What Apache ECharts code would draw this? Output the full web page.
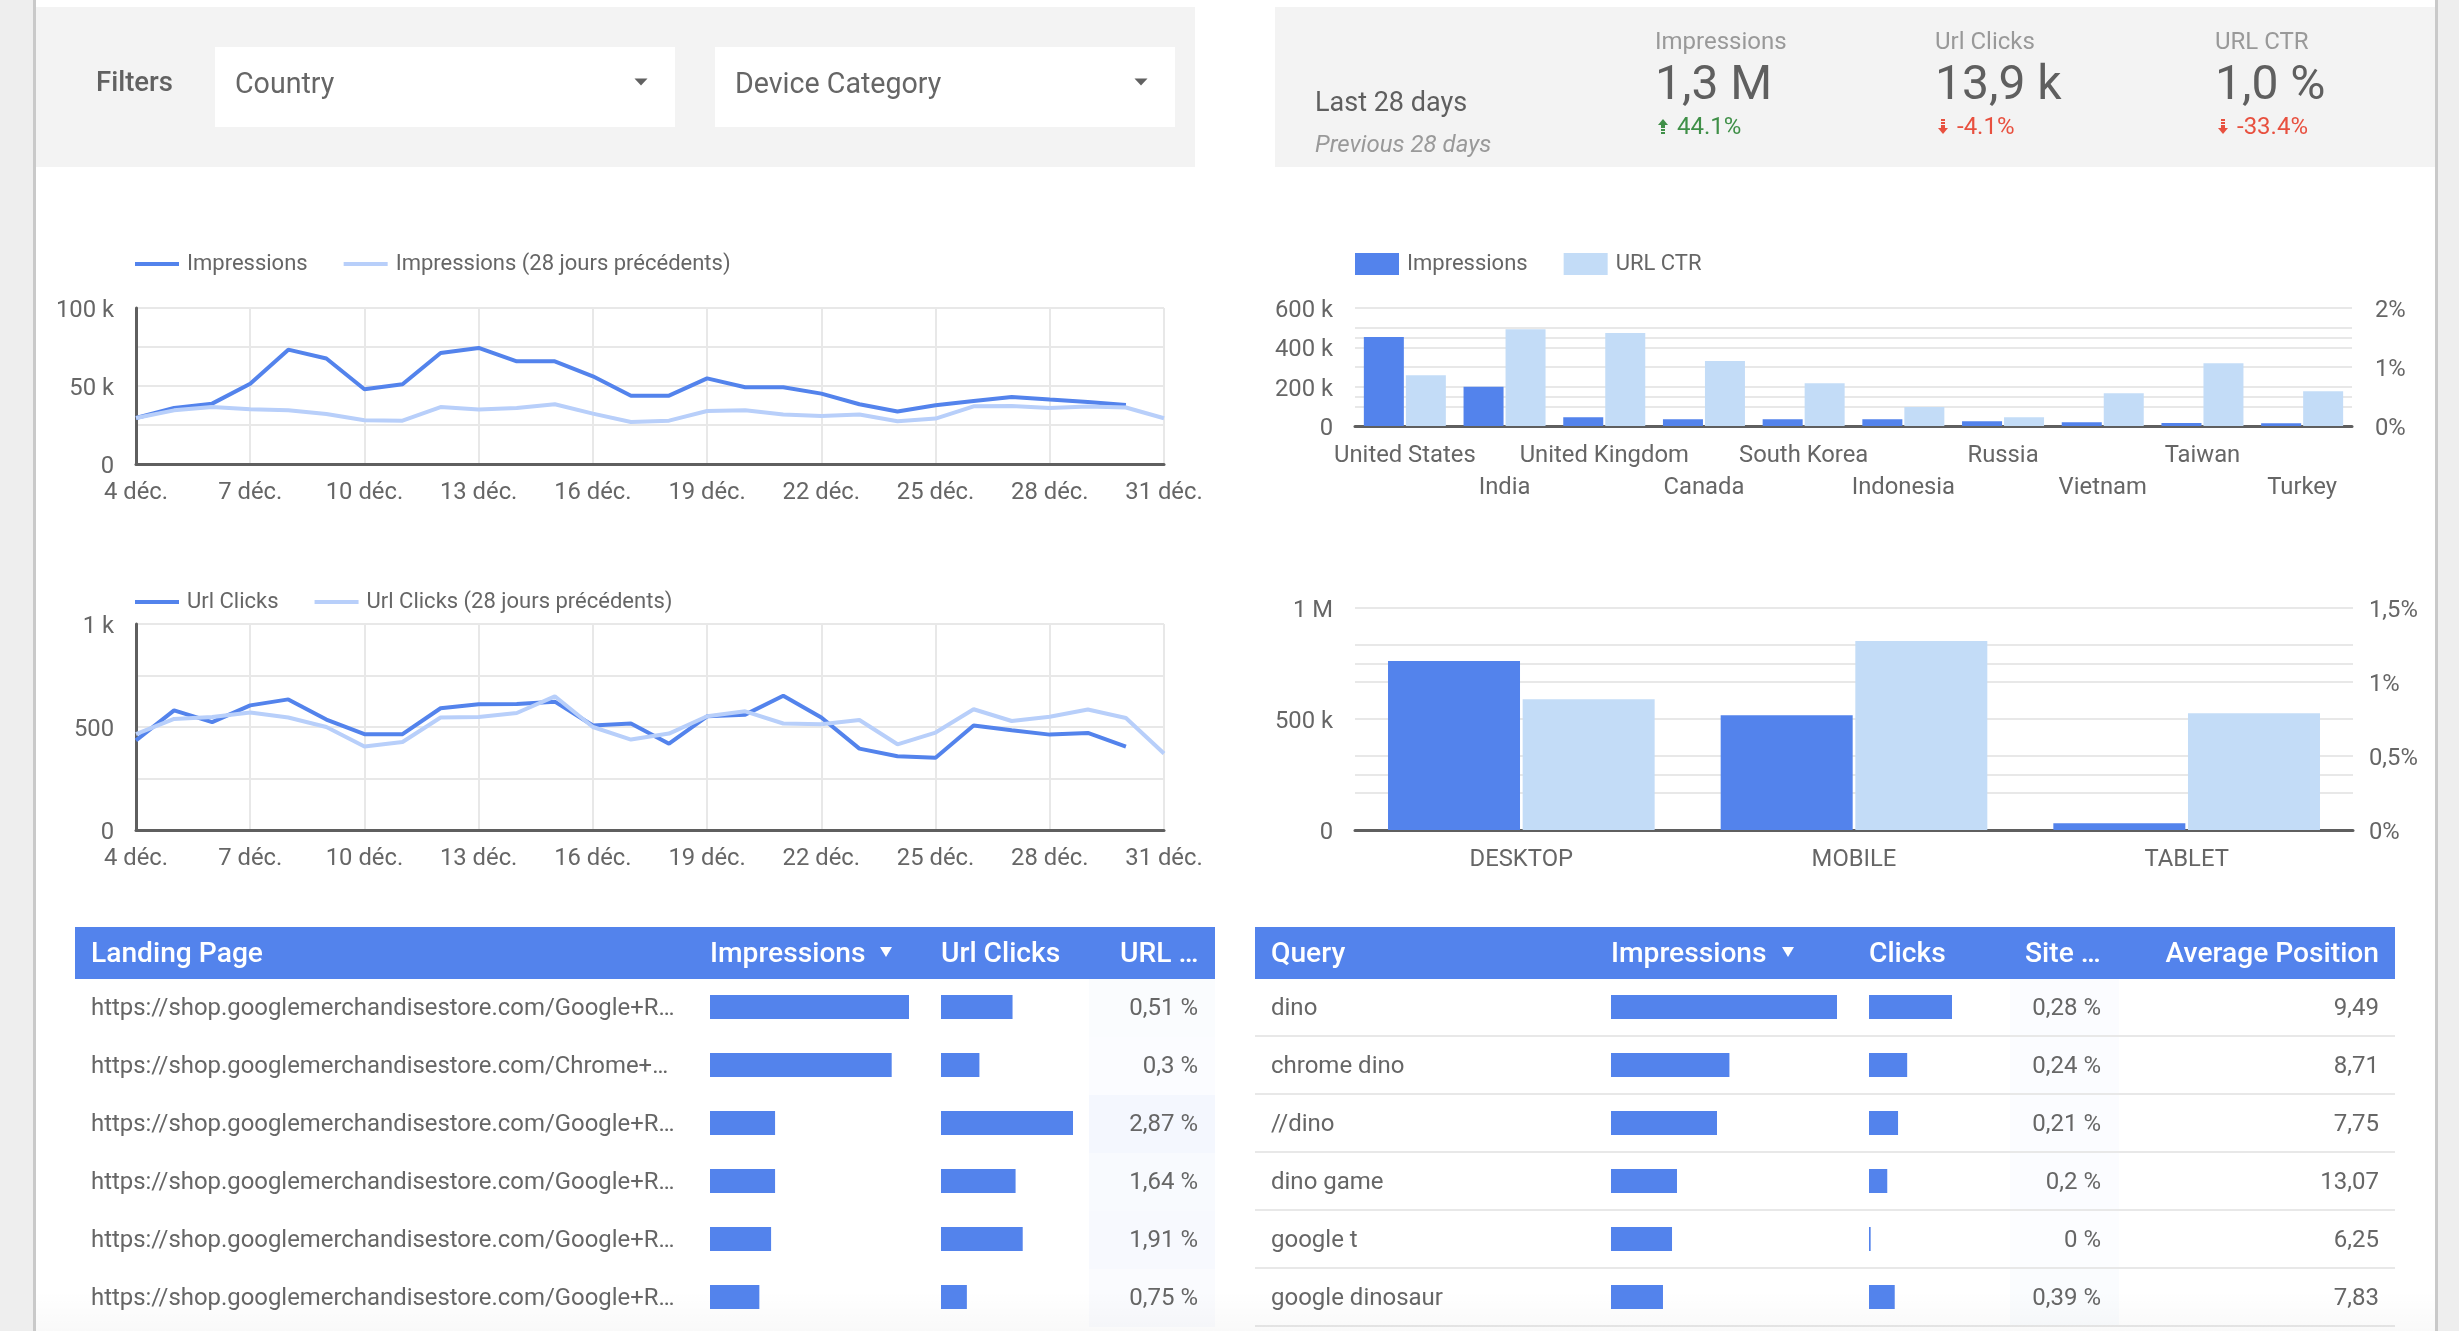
<!DOCTYPE html>
<html>
<head>
<meta charset="utf-8">
<title>Search Console dashboard</title>
<script src="https://cdn.jsdelivr.net/npm/echarts@6/dist/echarts.min.js"></script>
<style>
  html, body { margin: 0; padding: 0; background: #fff; overflow: hidden; }
  #main { width: 2459px; height: 1331px; }
</style>
</head>
<body>
<div id="main"></div>
<script>
var days = ['4 déc.','5 déc.','6 déc.','7 déc.','8 déc.','9 déc.','10 déc.','11 déc.','12 déc.','13 déc.','14 déc.','15 déc.','16 déc.','17 déc.','18 déc.','19 déc.','20 déc.','21 déc.','22 déc.','23 déc.','24 déc.','25 déc.','26 déc.','27 déc.','28 déc.','29 déc.','30 déc.','31 déc.'];
var impressions = [29500,35900,38700,51500,73300,67600,47900,51100,71200,74400,65800,65800,56200,43800,43800,54900,49200,49200,45100,38300,33600,37600,40400,42900,41300,39800,37800];
var impressionsPrev = [29500,34400,36500,35100,34400,32100,28000,27800,36500,34900,35900,38300,32300,26900,27800,34000,34400,31700,30800,31700,27400,29100,37000,37200,35900,36800,36200,29300];
var clicks = [435,581,524,605,634,536,465,465,591,610,612,623,507,517,419,552,560,652,546,395,358,351,507,484,463,471,405];
var clicksPrev = [465,539,549,570,546,500,405,427,546,549,568,649,500,439,468,552,576,517,513,534,416,473,586,529,550,585,544,371];

var countries = ['United States','India','United Kingdom','Canada','South Korea','Indonesia','Russia','Vietnam','Taiwan','Turkey'];
var countryImpressions = [452000,199000,44000,34000,34000,34000,24000,19000,15000,14000];
var countryCtr = [0.86,1.64,1.575,1.10,0.725,0.32,0.147,0.555,1.065,0.59];

var devices = ['DESKTOP','MOBILE','TABLET'];
var deviceImpressions = [761000,517000,30000];
var deviceCtr = [0.884,1.277,0.789];

var impressionTicks = {0:'0',50000:'50 k',100000:'100 k'};
var clickTicks = {0:'0',500:'500',1000:'1 k'};
var countryTicks = {0:'0',200000:'200 k',400000:'400 k',600000:'600 k'};
var countryCtrTicks = {0:'0%',1:'1%',2:'2%'};
var deviceTicks = {0:'0',500000:'500 k',1000000:'1 M'};
var deviceCtrTicks = {0:'0%',0.5:'0,5%',1:'1%',1.5:'1,5%'};

var landingPages = ['https://shop.googlemerchandisestore.com/Google+R…','https://shop.googlemerchandisestore.com/Chrome+…','https://shop.googlemerchandisestore.com/Google+R…','https://shop.googlemerchandisestore.com/Google+R…','https://shop.googlemerchandisestore.com/Google+R…','https://shop.googlemerchandisestore.com/Google+R…'];
var landingImpressions = [100,91.3,32.7,32.7,30.7,24.8];
var landingClicks = [54.2,29.1,100,56.5,61.9,19.6];
var landingCtrValues = [0.51,0.3,2.87,1.64,1.91,0.75];
var landingCtrLabels = ['0,51 %','0,3 %','2,87 %','1,64 %','1,91 %','0,75 %'];

var queries = ['dino','chrome dino','//dino','dino game','google t','google dinosaur'];
var queryImpressions = [100,52.4,46.9,29.2,27,23];
var queryClicks = [100,46,35,22,2,31];
var queryCtrValues = [0.28,0.24,0.21,0.2,0,0.39];
var queryCtrLabels = ['0,28 %','0,24 %','0,21 %','0,2 %','0 %','0,39 %'];
var queryPositions = ['9,49','8,71','7,75','13,07','6,25','7,83'];

var BLUE = '#5383ec', LIGHT = '#b8cffa', PALE = '#c3dcf7', GRID = '#e8e8e8', AXIS = '#5f5f5f', TEXT = '#666666';
var rows = [0,1,2,3,4,5];

function tickFormatter(map) {
    return function (v) { return map[v] !== undefined ? map[v] : ''; };
}
function txt(x, y, s, font, fill, align) {
    return { type: 'text', silent: true, style: { x: x, y: y, text: s, font: font, fill: fill || TEXT, textAlign: align || 'left', textVerticalAlign: 'middle' } };
}
function box(x, y, w, h, fill) {
    return { type: 'rect', silent: true, shape: { x: x, y: y, width: w, height: h }, style: { fill: fill } };
}
function tri(cx, cy, w, h, fill, up) {
    var d = up ? -1 : 1;
    return { type: 'polygon', silent: true, shape: { points: [[cx - w / 2, cy - d * h / 2], [cx + w / 2, cy - d * h / 2], [cx, cy + d * h / 2]] }, style: { fill: fill } };
}
// small dashed arrow next to the scorecard deltas
function arrow(cx, color, up) {
    var out = [];
    if (up) {
        out.push(tri(cx, 122, 10, 6, color, true));
        out.push(box(cx - 2, 125, 4, 3, color), box(cx - 2, 129, 4, 2, color), box(cx - 2, 132, 4, 2, color));
    } else {
        out.push(box(cx - 2, 119, 4, 2, color), box(cx - 2, 122, 4, 2, color), box(cx - 2, 125, 4, 3, color));
        out.push(tri(cx, 131, 10, 6, color, false));
    }
    return out;
}

var elements = [];
// page gutters
elements.push(box(0, 0, 35, 1331, '#eeeeee'), box(33, 0, 3, 1331, '#c9c9c9'));
elements.push(box(2436, 0, 23, 1331, '#eeeeee'), box(2435, 0, 3, 1331, '#c9c9c9'));
// filter panel
elements.push(box(36, 7, 1159, 160, '#f3f3f3'));
elements.push(txt(96, 84, 'Filters', '500 27.5px Roboto', '#616161'));
elements.push(box(215, 47, 460, 80, '#fff'), box(715, 47, 460, 80, '#fff'));
elements.push(txt(235, 86, 'Country', '400 28.6px Roboto'), txt(735, 86, 'Device Category', '400 28.6px Roboto'));
elements.push(tri(641, 82, 13, 7, '#616161', false), tri(1141, 82, 13, 7, '#616161', false));
// scorecards
elements.push(box(1275, 7, 1160, 160, '#f3f3f3'));
elements.push(txt(1315, 104, 'Last 28 days', '400 27px Roboto', '#5f5f5f'));
elements.push(txt(1315, 146, 'Previous 28 days', 'italic 400 24px Roboto', '#999999'));
elements.push(txt(1655, 43, 'Impressions', '400 24px Roboto', '#999999'));
elements.push(txt(1935, 43, 'Url Clicks', '400 24px Roboto', '#999999'));
elements.push(txt(2215, 43, 'URL CTR', '400 24px Roboto', '#999999'));
elements.push(txt(1655, 87, '1,3 M', '400 48px Roboto', '#5f5f5f'));
elements.push(txt(1935, 87, '13,9 k', '400 48px Roboto', '#5f5f5f'));
elements.push(txt(2215, 87, '1,0 %', '400 48px Roboto', '#5f5f5f'));
elements.push(txt(1677, 128, '44.1%', '400 24px Roboto', '#3f8f47'));
elements.push(txt(1957, 128, '-4.1%', '400 24px Roboto', '#e8503f'));
elements.push(txt(2237, 128, '-33.4%', '400 24px Roboto', '#e8503f'));
elements = elements.concat(arrow(1663, '#3f8f47', true), arrow(1943, '#e8503f', false), arrow(2223, '#e8503f', false));
// landing page table
elements.push(box(75, 927, 1140, 52, BLUE));
elements.push(txt(91, 955, 'Landing Page', '500 28.2px Roboto', '#fff'));
elements.push(txt(710, 955, 'Impressions', '500 28.2px Roboto', '#fff'));
elements.push(tri(886, 952, 12, 10, '#fff', false));
elements.push(txt(941, 955, 'Url Clicks', '500 28.2px Roboto', '#fff'));
elements.push(txt(1120, 955, 'URL …', '500 28.2px Roboto', '#fff'));
rows.forEach(function (i) {
    var y = 1009 + i * 58;
    elements.push(box(1089, 979 + i * 58, 126, 58, 'rgba(83,131,236,' + (0.02 + 0.015 * landingCtrValues[i]) + ')'));
    elements.push(txt(91, y, landingPages[i], '400 23.9px Roboto'));
    elements.push(txt(1198, y, landingCtrLabels[i], '400 24px Roboto', TEXT, 'right'));
});
// query table
elements.push(box(1255, 927, 1140, 52, BLUE));
elements.push(txt(1271, 955, 'Query', '500 28.2px Roboto', '#fff'));
elements.push(txt(1611, 955, 'Impressions', '500 28.2px Roboto', '#fff'));
elements.push(tri(1788, 952, 12, 10, '#fff', false));
elements.push(txt(1869, 955, 'Clicks', '500 28.2px Roboto', '#fff'));
elements.push(txt(2025, 955, 'Site …', '500 28.2px Roboto', '#fff'));
elements.push(txt(2379, 955, 'Average Position', '500 28.2px Roboto', '#fff', 'right'));
rows.forEach(function (i) {
    var y = 1009 + i * 58;
    elements.push(box(2010, 979 + i * 58, 109, 58, 'rgba(83,131,236,' + (0.02 + 0.015 * queryCtrValues[i]) + ')'));
    elements.push(box(1255, 1035 + i * 58, 1140, 2, GRID));
    elements.push(txt(1271, y, queries[i], '400 24px Roboto'));
    elements.push(txt(2101, y, queryCtrLabels[i], '400 24px Roboto', TEXT, 'right'));
    elements.push(txt(2379, y, queryPositions[i], '400 24px Roboto', TEXT, 'right'));
});
// faint fade along the bottom edge of the page
elements.push({
    type: 'rect', silent: true, shape: { x: 36, y: 1291, width: 2399, height: 40 },
    style: { fill: new echarts.graphic.LinearGradient(0, 0, 0, 1, [{ offset: 0, color: 'rgba(0,0,0,0)' }, { offset: 1, color: 'rgba(0,0,0,0.025)' }]) }
});

var labelFont = { color: TEXT, fontFamily: 'Roboto', fontSize: 23.8 };
// value labels sit a few pixels under their gridline in the original
var yLabelShift = { verticalAlign: 'top', lineHeight: 6 };

function lineGridAxes(gridIndex, max, interval, ticks) {
    return {
        x: {
            type: 'category', gridIndex: gridIndex, data: days, boundaryGap: false,
            axisLine: { lineStyle: { color: AXIS, width: 3 } }, axisTick: { show: false },
            axisLabel: Object.assign({ interval: 2, margin: 17 }, labelFont),
            splitLine: { show: true, interval: 2, lineStyle: { color: GRID, width: 2 } }
        },
        y: {
            type: 'value', gridIndex: gridIndex, min: 0, max: max, interval: interval,
            axisLine: { show: true, lineStyle: { color: AXIS, width: 3 } }, axisTick: { show: false },
            axisLabel: Object.assign({ margin: 22, formatter: tickFormatter(ticks) }, labelFont, yLabelShift),
            splitLine: { lineStyle: { color: GRID, width: 2 } }
        }
    };
}
function barValueAxis(gridIndex, max, interval, ticks, margin) {
    return {
        type: 'value', gridIndex: gridIndex, min: 0, max: max, interval: interval,
        axisLine: { show: false }, axisTick: { show: false },
        axisLabel: Object.assign({ margin: margin, formatter: tickFormatter(ticks) }, labelFont, yLabelShift),
        splitLine: { lineStyle: { color: GRID, width: 2 } }
    };
}
function lineSeries(name, data, color, axis) {
    return { name: name, type: 'line', data: data, xAxisIndex: axis, yAxisIndex: axis, symbol: 'none', lineStyle: { color: color, width: 4 }, itemStyle: { color: color }, z: 3 };
}
function legendOf(left, top, names, colors, w, h) {
    return {
        left: left, top: top, padding: 0, itemWidth: w, itemHeight: h, itemGap: 36, icon: 'rect',
        selectedMode: false, textStyle: { color: TEXT, fontFamily: 'Roboto', fontSize: 22, padding: [0, 0, 0, 3] },
        data: names.map(function (n, i) { return { name: n, icon: 'rect', itemStyle: { color: colors[i] } }; })
    };
}

// table bars live in their own small grids
var tableBars = [
    { left: 710, width: 199, data: landingImpressions },
    { left: 941, width: 132, data: landingClicks },
    { left: 1611, width: 226, data: queryImpressions },
    { left: 1869, width: 83, data: queryClicks }
];

var a1 = lineGridAxes(0, 100000, 25000, impressionTicks);
var a2 = lineGridAxes(1, 1000, 250, clickTicks);

var option = {
    animation: false,
    backgroundColor: '#ffffff',
    textStyle: { fontFamily: 'Roboto' },
    graphic: { elements: elements },
    legend: [
        legendOf(135, 253, ['Impressions', 'Impressions (28 jours précédents)'], [BLUE, LIGHT], 44, 4),
        legendOf(135, 591, ['Url Clicks', 'Url Clicks (28 jours précédents)'], [BLUE, LIGHT], 44, 4),
        legendOf(1355, 253, ['Impressions', 'URL CTR'], [BLUE, PALE], 44, 22)
    ],
    grid: [
        { left: 136, top: 308, width: 1028, height: 156 },
        { left: 136, top: 624, width: 1028, height: 206 },
        { left: 1355, top: 308, width: 997, height: 118 },
        { left: 1355, top: 608, width: 998, height: 222 }
    ].concat(tableBars.map(function (b) {
        return { left: b.left, width: b.width, top: 978, height: 348 };
    })),
    xAxis: [
        a1.x, a2.x,
        {
            type: 'category', gridIndex: 2, data: countries,
            axisLine: { lineStyle: { color: AXIS, width: 3 } }, axisTick: { show: false },
            axisLabel: Object.assign({
                interval: 0, margin: 14, lineHeight: 32,
                formatter: function (v) { return countries.indexOf(v) % 2 ? '\n' + v : v; }
            }, labelFont)
        },
        {
            type: 'category', gridIndex: 3, data: devices,
            axisLine: { lineStyle: { color: AXIS, width: 3 } }, axisTick: { show: false },
            axisLabel: Object.assign({ margin: 18 }, labelFont)
        }
    ].concat(tableBars.map(function (b, i) {
        return { type: 'value', gridIndex: 4 + i, min: 0, max: 100, show: false };
    })),
    yAxis: [
        a1.y, a2.y,
        barValueAxis(2, 600000, 100000, countryTicks, 22),
        barValueAxis(2, 2, 0.5, countryCtrTicks, 23),
        barValueAxis(3, 1000000, 250000, deviceTicks, 22),
        barValueAxis(3, 1.5, 0.25, deviceCtrTicks, 16)
    ].concat(tableBars.map(function (b, i) {
        return { type: 'category', gridIndex: 4 + i, data: rows, inverse: true, show: false };
    })),
    series: [
        lineSeries('Impressions', impressions, BLUE, 0),
        lineSeries('Impressions (28 jours précédents)', impressionsPrev, LIGHT, 0),
        lineSeries('Url Clicks', clicks, BLUE, 1),
        lineSeries('Url Clicks (28 jours précédents)', clicksPrev, LIGHT, 1),
        { name: 'Impressions', type: 'bar', data: countryImpressions, xAxisIndex: 2, yAxisIndex: 2, barWidth: 40, barGap: '5%', itemStyle: { color: BLUE } },
        { name: 'URL CTR', type: 'bar', data: countryCtr, xAxisIndex: 2, yAxisIndex: 3, barWidth: 40, barGap: '5%', itemStyle: { color: PALE } },
        { name: 'Impressions', type: 'bar', data: deviceImpressions, xAxisIndex: 3, yAxisIndex: 4, barWidth: 132, barGap: '2%', itemStyle: { color: BLUE } },
        { name: 'URL CTR', type: 'bar', data: deviceCtr, xAxisIndex: 3, yAxisIndex: 5, barWidth: 132, barGap: '2%', itemStyle: { color: PALE } }
    ].concat(tableBars.map(function (b, i) {
        return { type: 'bar', data: b.data, xAxisIndex: 4 + i, yAxisIndex: 6 + i, barWidth: 24, itemStyle: { color: BLUE } };
    }))
};

var myChart = echarts.init(document.getElementById('main'));
myChart.setOption(option);
</script>
</body>
</html>
